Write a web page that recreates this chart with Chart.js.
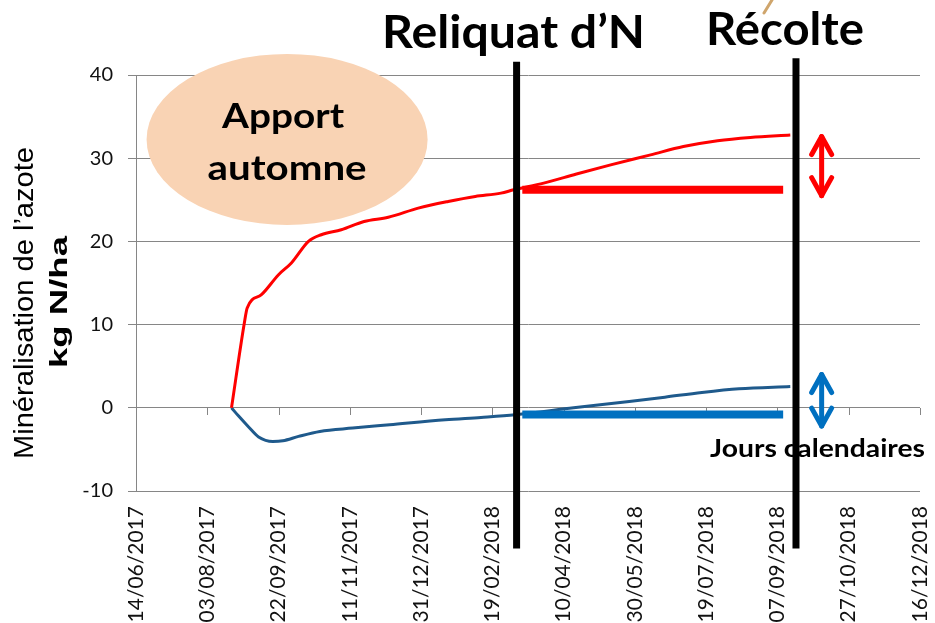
<!DOCTYPE html>
<html><head><meta charset="utf-8">
<script src="https://cdn.jsdelivr.net/npm/chart.js@4.4.1/dist/chart.umd.min.js"></script>
<style>html,body{margin:0;padding:0;background:#fff;}canvas{display:block;}</style>
</head><body>
<canvas id="c" width="935" height="623"></canvas>
<script>
// ---------- data ----------
const xTickLabels = ['14/06/2017','03/08/2017','22/09/2017','11/11/2017','31/12/2017','19/02/2018','10/04/2018','30/05/2018','19/07/2018','07/09/2018','27/10/2018','16/12/2018'];
const yTicks = [-10, 0, 10, 20, 30, 40];

const redDates  = ['2017-08-20','2017-08-29','2017-08-31','2017-09-10','2017-09-22','2017-10-01','2017-10-13','2017-10-22','2017-11-05','2017-11-21','2017-12-08','2017-12-29','2018-01-19','2018-02-07','2018-02-25','2018-03-06','2018-03-27','2018-04-19','2018-05-13','2018-06-10','2018-07-03','2018-07-27','2018-08-19','2018-09-16'];
const redValues = [0, 10.2, 12.0, 13.6, 16.0, 17.4, 20.0, 20.8, 21.4, 22.4, 22.9, 24.0, 24.8, 25.4, 25.8, 26.2, 27.0, 28.1, 29.2, 30.4, 31.4, 32.1, 32.5, 32.8];

const blueDates  = ['2017-08-20','2017-08-25','2017-09-01','2017-09-08','2017-09-18','2017-09-25','2017-10-06','2017-10-21','2017-11-13','2017-12-09','2018-01-17','2018-02-11','2018-03-07','2018-04-17','2018-05-26','2018-06-20','2018-07-16','2018-08-11','2018-09-16'];
const blueValues = [0, -1.0, -2.3, -3.5, -4.04, -3.96, -3.44, -2.84, -2.44, -2.04, -1.44, -1.16, -0.84, 0, 0.76, 1.28, 1.84, 2.28, 2.56];

const reliquatDate = '2018-03-08';
const recolteDate  = '2018-09-20';
const reliquatLineRange = [-16.9, 41.6];
const recolteLineRange  = [-16.9, 42.0];
const barDates = ['2018-03-12', '2018-09-11'];
const redBarValue = 26.2;
const blueBarValue = -0.8;
const arrowDate = '2018-10-08';
const redArrowRange = [25.2, 32.9];
const blueArrowRange = [-2.5, 4.3];

// ---------- helpers ----------
const day = s => { const [y, m, d] = s.split('-').map(Number); return Date.UTC(y, m - 1, d) / 864e5; };
const dmy = s => { const [d, m, y] = s.split('/').map(Number); return Date.UTC(y, m - 1, d) / 864e5; };
const pts = (dates, vals) => dates.map((d, i) => ({ x: day(d), y: vals[i] }));

function fitText(ctx, text, font, cx, base, targetW, rot, vScale) {
  ctx.save();
  ctx.font = font;
  const w = ctx.measureText(text).width;
  ctx.translate(cx, base);
  if (rot) ctx.rotate(rot);
  ctx.scale(targetW / w, vScale || 1);
  ctx.textAlign = 'center';
  ctx.textBaseline = 'alphabetic';
  ctx.fillStyle = '#000';
  ctx.fillText(text, 0, 0);
  ctx.restore();
}

function dblArrow(ctx, x, yTop, yBot, color) {
  ctx.save();
  ctx.strokeStyle = color; ctx.lineWidth = 5; ctx.lineCap = 'round'; ctx.lineJoin = 'round';
  const t = yTop + 2.5, b = yBot - 2.5, hw = 10, hl = 18;
  ctx.beginPath(); ctx.moveTo(x, t); ctx.lineTo(x, b); ctx.stroke();
  ctx.beginPath(); ctx.moveTo(x - hw, t + hl); ctx.lineTo(x, t); ctx.lineTo(x + hw, t + hl); ctx.stroke();
  ctx.beginPath(); ctx.moveTo(x - hw, b - hl); ctx.lineTo(x, b); ctx.lineTo(x + hw, b - hl); ctx.stroke();
  ctx.restore();
}

const overlay = {
  id: 'overlay',
  beforeDatasetsDraw(chart) {
    const ctx = chart.ctx, xs = chart.scales.x, ys = chart.scales.y;
    // tick marks along the y = 0 axis
    const y0 = ys.getPixelForValue(0);
    ctx.save();
    ctx.strokeStyle = '#868686'; ctx.lineWidth = 1;
    xs.ticks.forEach(t => {
      const px = Math.round(xs.getPixelForValue(t.value)) + 0.5;
      ctx.beginPath(); ctx.moveTo(px, Math.round(y0)); ctx.lineTo(px, Math.round(y0) + 7); ctx.stroke();
    });
    ctx.restore();
    // ellipse "Apport automne"
    const cx = xs.getPixelForValue(day('2017-09-28'));
    const cy = ys.getPixelForValue(32.25);
    ctx.save();
    ctx.fillStyle = '#F9D3B4';
    ctx.beginPath(); ctx.ellipse(cx, cy, 140.5, 85.5, 0, 0, Math.PI * 2); ctx.fill();
    ctx.restore();
    fitText(ctx, 'Apport', 'bold 35px Lato', cx - 4, 128, 122);
    fitText(ctx, 'automne', 'bold 35px Lato', cx, 180, 159);
    // "Jours calendaires" (under the harvest line)
    fitText(ctx, 'Jours calendaires', 'bold 24px Lato', 817.5, 457, 215);
  },
  afterDraw(chart) {
    const ctx = chart.ctx, xs = chart.scales.x, ys = chart.scales.y;
    // axis titles
    fitText(ctx, 'Minéralisation de l\u2019azote', '28px "Liberation Sans"', 33, 303, 312, -Math.PI / 2);
    fitText(ctx, 'kg N/ha', 'bold 24px "Liberation Sans"', 67, 302, 132, -Math.PI / 2);
    // headers
    fitText(ctx, 'Reliquat d\u2019N', 'bold 44px Lato', 513.5, 48, 263, 0, 1.06);
    fitText(ctx, 'Récolte', 'bold 44px Lato', 785, 45, 158, 0, 1.06);
    // arrows
    const ax = xs.getPixelForValue(day(arrowDate));
    dblArrow(ctx, ax, ys.getPixelForValue(redArrowRange[1]), ys.getPixelForValue(redArrowRange[0]), '#FF0000');
    dblArrow(ctx, ax, ys.getPixelForValue(blueArrowRange[1]), ys.getPixelForValue(blueArrowRange[0]), '#0070C0');
    // small picture fragment at the top
    ctx.save();
    ctx.strokeStyle = '#CFA56C'; ctx.lineWidth = 3; ctx.lineCap = 'round';
    ctx.beginPath(); ctx.moveTo(772, 0); ctx.lineTo(764, 13); ctx.stroke();
    ctx.restore();
  }
};

const vline = (date, range) => [{ x: day(date), y: range[0] }, { x: day(date), y: range[1] }];
const hline = (dates, v) => dates.map(d => ({ x: day(d), y: v }));
const noPad = s => { s.paddingLeft = 0; s.paddingRight = 0; s.paddingTop = 0; s.paddingBottom = 0; };

new Chart(document.getElementById('c').getContext('2d'), {
  type: 'line',
  data: {
    datasets: [
      { label: 'Reliquat', data: vline(reliquatDate, reliquatLineRange), borderColor: '#000', borderWidth: 7, pointRadius: 0, clip: false, order: 0, borderCapStyle: 'butt' },
      { label: 'Récolte', data: vline(recolteDate, recolteLineRange), borderColor: '#000', borderWidth: 7, pointRadius: 0, clip: false, order: 0, borderCapStyle: 'butt' },
      { label: 'redBar', data: hline(barDates, redBarValue), borderColor: '#FF0000', borderWidth: 8, pointRadius: 0, order: 1, borderCapStyle: 'butt' },
      { label: 'blueBar', data: hline(barDates, blueBarValue), borderColor: '#0070C0', borderWidth: 8, pointRadius: 0, order: 1, borderCapStyle: 'butt', clip: false },
      { label: 'red', data: pts(redDates, redValues), borderColor: '#FF0000', borderWidth: 3, pointRadius: 0, cubicInterpolationMode: 'monotone', order: 2 },
      { label: 'blue', data: pts(blueDates, blueValues), borderColor: '#1F5A8C', borderWidth: 3, pointRadius: 0, cubicInterpolationMode: 'monotone', order: 2 }
    ]
  },
  options: {
    responsive: false,
    animation: false,
    layout: { padding: { left: 0, top: 75, right: 15, bottom: 0 } },
    plugins: { legend: { display: false }, tooltip: { enabled: false } },
    scales: {
      x: {
        type: 'linear',
        min: dmy(xTickLabels[0]),
        max: dmy(xTickLabels[xTickLabels.length - 1]),
        afterBuildTicks: s => { s.ticks = xTickLabels.map(l => ({ value: dmy(l) })); },
        afterFit: s => { s.height = 132; noPad(s); },
        grid: { display: false, drawTicks: false },
        border: { display: false },
        ticks: {
          autoSkip: false, minRotation: 90, maxRotation: 90, padding: 15,
          font: { family: 'Lato', size: 21 }, color: '#111',
          callback: (v, i) => xTickLabels[i]
        }
      },
      y: {
        min: -10, max: 40,
        afterBuildTicks: s => { s.ticks = yTicks.map(v => ({ value: v })); },
        afterFit: s => { s.width = 136; noPad(s); },
        grid: { color: '#868686', lineWidth: 1, tickLength: 8, drawTicks: true },
        border: { color: '#868686', width: 1 },
        ticks: { padding: 15, font: { family: 'Lato', size: 20 }, color: '#111' }
      }
    }
  },
  plugins: [overlay]
});
</script>
</body></html>
